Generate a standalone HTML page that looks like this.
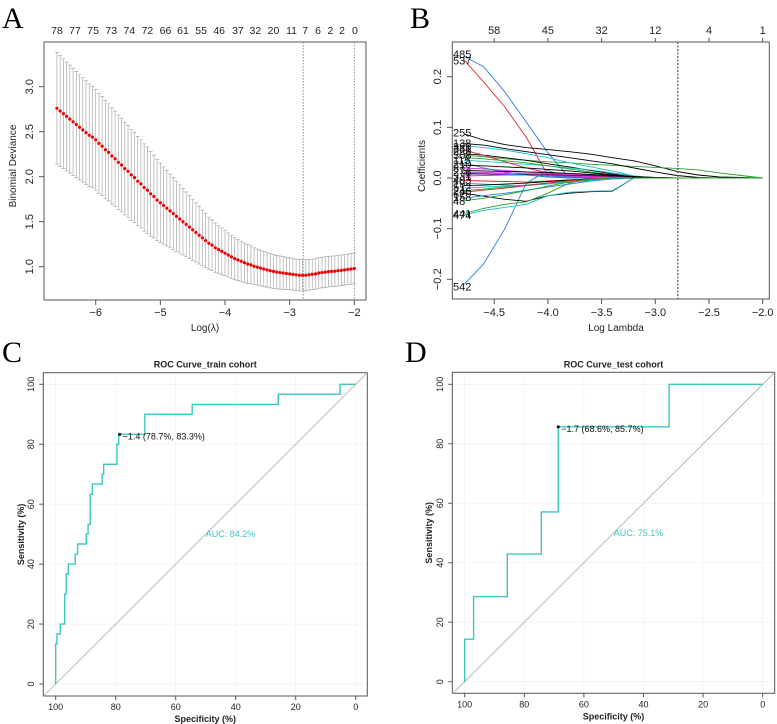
<!DOCTYPE html>
<html><head><meta charset="utf-8"><style>
body{margin:0;background:#fff}
svg{display:block;font-family:"Liberation Sans",sans-serif}
</style></head><body>
<svg id="fig" width="777" height="724" viewBox="0 0 777 724" xmlns="http://www.w3.org/2000/svg">
<g id="pA"></g>
<g id="pB"></g>
<g id="pC"></g>
<g id="pD"></g>
</svg>
<script>
// ---------- Panel A data ----------
const aLambdaStart = -6.6, aLambdaStep = 0.05;
const aMean = [2.76,2.73,2.70,2.67,2.64,2.61,2.58,2.55,2.52,2.49,2.46,2.44,2.41,
2.37,2.34,2.30,2.27,2.23,2.20,2.16,2.13,2.09,2.06,2.02,1.99,1.95,1.92,1.88,1.85,1.81,1.78,1.74,1.71,
1.68,1.65,1.62,1.59,1.56,1.53,1.50,1.47,1.44,1.41,1.38,1.35,1.32,1.29,1.26,1.24,1.21,1.19,1.17,1.15,
1.13,1.11,1.09,1.075,1.06,1.045,1.03,1.02,1.005,0.995,0.985,0.975,0.965,0.955,0.948,0.94,0.935,0.93,0.925,0.92,
0.915,0.91,0.905,0.905,0.905,0.91,0.915,0.92,0.93,0.935,0.94,0.945,0.948,0.95,0.955,0.96,0.965,0.97,0.975,0.98];
const aSE = [0.62,0.615,0.61,0.605,0.60,0.595,0.59,0.585,0.58,0.575,0.57,0.565,0.56,
0.555,0.55,0.545,0.54,0.535,0.53,0.525,0.52,0.515,0.51,0.505,0.50,0.495,0.49,0.485,0.48,0.47,0.46,0.45,0.44,
0.43,0.42,0.41,0.40,0.39,0.38,0.37,0.36,0.35,0.34,0.33,0.32,0.31,0.30,0.29,0.28,0.275,0.265,0.26,0.25,
0.245,0.24,0.235,0.23,0.225,0.22,0.215,0.21,0.205,0.20,0.198,0.195,0.192,0.19,0.188,0.186,0.184,0.182,0.18,0.178,
0.176,0.175,0.174,0.173,0.172,0.171,0.17,0.17,0.17,0.17,0.17,0.17,0.17,0.17,0.17,0.17,0.17,0.17,0.17,0.17];
const aXTicks = [-6,-5,-4,-3,-2];
const aYTicks = [1.0,1.5,2.0,2.5,3.0];
const aTopLabels = ["78","77","75","73","74","72","66","61","55","46","37","32","20","11","7","6","2","2","0"];
const aTopLambda = [-6.60,-6.32,-6.04,-5.76,-5.48,-5.20,-4.92,-4.65,-4.37,-4.09,-3.80,-3.53,-3.25,-2.97,-2.76,-2.56,-2.37,-2.19,-1.99];
const aVLines = [-2.79,-2.0];

// ---------- Panel B data ----------
const bGrid = [-4.78,-4.6,-4.4,-4.2,-4.0,-3.8,-3.6,-3.4,-3.2,-3.0,-2.8,-2.6,-2.4,-2.2,-2.0];
const bColors = ["#2a7fd4","#d62728","#2a7fd4","#000","#2ca02c","#000","#000","#2ca02c","#17becf","#17becf","#e020e0","#000","#17becf","#d62728","#2a7fd4","#2ca02c","#e020e0","#000","#17becf","#d62728","#000","#2ca02c","#2a7fd4","#e020e0","#000","#17becf","#d62728","#000","#2a7fd4","#2ca02c"];
const bCoefs = [
[0.240,0.220,0.170,0.110,0.050,0,0,0,0,0,0,0,0,0,0],
[0.233,0.190,0.140,0.080,0.005,0,0,0,0,0,0,0,0,0,0],
[-0.210,-0.170,-0.100,-0.010,0.015,0,0,0,0,0,0,0,0,0,0],
[0.087,0.075,0.066,0.060,0.056,0.052,0.047,0.040,0.034,0.024,0.013,0.006,0.002,0.001,0],
[0.045,0.042,0.038,0.035,0.032,0.030,0.027,0.025,0.023,0.021,0.019,0.016,0.010,0.005,0],
[0.068,0.065,0.058,0.052,0.046,0.040,0.034,0.028,0.020,0.012,0.005,0.001,0,0,0],
[-0.030,-0.036,-0.042,-0.046,-0.035,-0.030,-0.027,-0.026,0,0,0,0,0,0,0],
[-0.070,-0.060,-0.052,-0.047,-0.030,-0.010,0,0,0,0,0,0,0,0,0],
[-0.073,-0.064,-0.058,-0.052,-0.035,-0.028,-0.026,-0.025,0,0,0,0,0,0,0],
[0.064,0.060,0.055,0.048,0.040,0.030,0.022,0.014,0.004,0,0,0,0,0,0],
[0.020,0.018,0.015,0.012,0.010,0.008,0.006,0.004,0.002,0.001,0,0,0,0,0],
[0.048,0.045,0.040,0.035,0.028,0.022,0.015,0.008,0.002,0,0,0,0,0,0],
[0.035,0.033,0.030,0.027,0.024,0.020,0.016,0.010,0.004,0,0,0,0,0,0],
[0.055,0.045,0.032,0.020,0.010,0.004,0,0,0,0,0,0,0,0,0],
[0.030,0.020,0.012,0.006,0.002,0,0,0,0,0,0,0,0,0,0],
[0.040,0.038,0.034,0.030,0.024,0.018,0.012,0.006,0,0,0,0,0,0,0],
[0.012,0.011,0.010,0.009,0.008,0.006,0.005,0.003,0.001,0,0,0,0,0,0],
[0.008,0.008,0.007,0.007,0.006,0.005,0.004,0.003,0.002,0.001,0,0,0,0,0],
[-0.010,-0.012,-0.014,-0.015,-0.012,-0.008,-0.004,-0.002,0,0,0,0,0,0,0],
[-0.005,-0.006,-0.007,-0.008,-0.006,-0.004,-0.002,0,0,0,0,0,0,0,0],
[-0.015,-0.014,-0.012,-0.010,-0.007,-0.004,-0.002,0,0,0,0,0,0,0,0],
[-0.025,-0.022,-0.018,-0.014,-0.010,-0.006,-0.003,0,0,0,0,0,0,0,0],
[-0.040,-0.035,-0.030,-0.024,-0.018,-0.012,-0.006,-0.002,0,0,0,0,0,0,0],
[0.004,0.005,0.006,0.006,0.005,0.004,0.003,0.002,0.001,0,0,0,0,0,0],
[0.015,0.014,0.013,0.012,0.011,0.009,0.007,0.005,0.003,0.001,0,0,0,0,0],
[-0.020,-0.018,-0.016,-0.014,-0.011,-0.008,-0.005,-0.002,0,0,0,0,0,0,0],
[-0.028,-0.024,-0.020,-0.015,-0.010,-0.005,-0.002,0,0,0,0,0,0,0,0],
[0.025,0.024,0.022,0.020,0.017,0.014,0.010,0.006,0.002,0,0,0,0,0,0],
[0.010,0.009,0.008,0.006,0.004,0.002,0.001,0,0,0,0,0,0,0,0],
[-0.045,-0.040,-0.033,-0.025,-0.016,-0.008,-0.003,0,0,0,0,0,0,0,0]
];
const bLabels = ["485","537","542","255","138","48","441","474","326","229","308","115","210","87","276","331","403","19","512","246","67","158","381"];
const bLabelVals = [0.245,0.232,-0.214,0.090,0.069,-0.045,-0.070,-0.073,0.062,0.053,0.045,0.036,0.028,0.020,0.012,0.004,-0.004,-0.011,-0.018,-0.026,-0.032,-0.038,0.058];
const bXTicks = [-4.5,-4.0,-3.5,-3.0,-2.5,-2.0];
const bYTicks = [-0.2,-0.1,0.0,0.1,0.2];
const bTopLabels = ["58","45","32","12","4","1"];
const bTopLambda = [-4.5,-4.0,-3.5,-3.0,-2.5,-2.0];
const bVLine = -2.79;

// ---------- Panel C / D data ----------
const cSpec = [100,100,99.6,99.6,98.5,98.5,97,97,96.5,96.5,95.8,95.8,93.5,93.5,92.7,92.7,89.8,89.8,89.2,89.2,88.5,88.5,87.8,87.8,84.5,84.5,84,84,79.6,79.6,79,79,70.3,70.3,54.5,54.5,25.8,25.8,5.2,5.2,0];
const cSens = [0,13.3,13.3,16.7,16.7,20,20,30,30,36.7,36.7,40,40,43.3,43.3,46.7,46.7,50,50,53.3,53.3,63.3,63.3,66.7,66.7,70,70,73.3,73.3,80,80,83.3,83.3,90,90,93.3,93.3,96.7,96.7,100,100];
const cBest = [78.7,83.3];
const dSpec = [100,100,97,97,85.7,85.7,74.3,74.3,68.6,68.6,31.4,31.4,0];
const dSens = [0,14.3,14.3,28.6,28.6,42.9,42.9,57.1,57.1,85.7,85.7,100,100];
const dBest = [68.6,85.7];
const rocTicks = [0,20,40,60,80,100];

const NS="http://www.w3.org/2000/svg";
function mk(parent,tag,attrs,text){const e=document.createElementNS(NS,tag);for(const k in attrs)e.setAttribute(k,attrs[k]);if(text!==undefined)e.textContent=text;parent.appendChild(e);return e;}

// ===== Panel A =====
(function(){
const g=document.getElementById('pA');
const X=v=>354.3+(v+2)*64.65, Y=v=>266.7-(v-1)*90;
let t=mk(g,'text',{x:2,y:28,'font-family':'Liberation Serif, serif','font-size':30},'A');

let r=mk(g,'rect',{x:44,y:42,width:322,height:258,fill:'none',stroke:'#555','stroke-width':1});

aVLines.forEach(v=>{const l=mk(g,'line',{x1:X(v),x2:X(v),y1:42,y2:300,stroke:'#777','stroke-dasharray':'1.5,1.5','stroke-width':0.8});
});
aMean.forEach((m,i)=>{const lx=aLambdaStart+i*aLambdaStep,x=X(lx),s=aSE[i];
const e=mk(g,'path',{d:`M${x},${Y(m+s)}V${Y(m-s)}M${x-2},${Y(m+s)}H${x+2}M${x-2},${Y(m-s)}H${x+2}`,stroke:'#aaa','stroke-width':0.7,fill:'none'});
});
aMean.forEach((m,i)=>{const lx=aLambdaStart+i*aLambdaStep;
const c=mk(g,'circle',{cx:X(lx),cy:Y(m),r:1.6,fill:'#ee0000'});
});
aXTicks.forEach(v=>{const x=X(v);mk(g,'line',{x1:x,x2:x,y1:300,y2:305,stroke:'#555'});
const tt=mk(g,'text',{x:x,y:316,'text-anchor':'middle','font-size':11,fill:'#222'},String(v).replace('-','−'));
});
aYTicks.forEach(v=>{const y=Y(v);mk(g,'line',{x1:39,x2:44,y1:y,y2:y,stroke:'#555'});
const tt=mk(g,'text',{x:33,y:y,'text-anchor':'middle','font-size':11,fill:'#222',transform:`rotate(-90 33 ${y})`},v.toFixed(1));
});
aTopLabels.forEach((s,i)=>{const tt=mk(g,'text',{x:X(aTopLambda[i]),y:34,'text-anchor':'middle','font-size':10.5,fill:'#222'},s);
});
t=mk(g,'text',{x:205,y:331,'text-anchor':'middle','font-size':10,fill:'#222'},'Log(λ)');

t=mk(g,'text',{x:16,y:166,'text-anchor':'middle','font-size':10,fill:'#222',transform:'rotate(-90 16 166)'},'Binomial Deviance');

})();

// ===== Panel B =====
(function(){
const g=document.getElementById('pB');
const X=v=>762.7+(v+2)*107.4, Y=v=>178-v*506.5;
let t=mk(g,'text',{x:410,y:28,'font-family':'Liberation Serif, serif','font-size':30},'B');

let r=mk(g,'rect',{x:452.3,y:42,width:317,height:257,fill:'none',stroke:'#555','stroke-width':1});

bCoefs.forEach((row,i)=>{const d=row.map((v,j)=>(j?'L':'M')+X(bGrid[j]).toFixed(1)+','+Y(v).toFixed(1)).join('');
const p=mk(g,'path',{d:d,fill:'none',stroke:bColors[i%bColors.length],'stroke-width':0.9});
});
const vl=mk(g,'line',{x1:X(bVLine),x2:X(bVLine),y1:42,y2:299,stroke:'#555','stroke-dasharray':'2,1.5','stroke-width':1.2});

bLabels.forEach((s,i)=>{const tt=mk(g,'text',{x:453,y:Y(bLabelVals[i])+4,'font-size':11,fill:'#111'},s);
});
bXTicks.forEach(v=>{const x=X(v);mk(g,'line',{x1:x,x2:x,y1:299,y2:304,stroke:'#555'});
const tt=mk(g,'text',{x:x,y:316,'text-anchor':'middle','font-size':11,fill:'#222'},v.toFixed(1).replace('-','−'));
});
bYTicks.forEach(v=>{const y=Y(v);mk(g,'line',{x1:447,x2:452.3,y1:y,y2:y,stroke:'#555'});
const tt=mk(g,'text',{x:441,y:y,'text-anchor':'middle','font-size':11,fill:'#222',transform:`rotate(-90 441 ${y})`},v.toFixed(1).replace('-','−'));
});
bTopLambda.forEach((v,i)=>{const x=X(v);mk(g,'line',{x1:x,x2:x,y1:42,y2:38,stroke:'#555'});
const tt=mk(g,'text',{x:x,y:34,'text-anchor':'middle','font-size':11,fill:'#222'},bTopLabels[i]);
});
t=mk(g,'text',{x:616,y:331,'text-anchor':'middle','font-size':10,fill:'#222'},'Log Lambda');

t=mk(g,'text',{x:425,y:166,'text-anchor':'middle','font-size':10,fill:'#222',transform:'rotate(-90 425 166)'},'Coefficients');

})();

// ===== ROC panels =====
function roc(id,o){
const g=document.getElementById(id);
const X=v=>o.x0+(100-v)*o.sx, Y=v=>o.y0-v*o.sy;
let t=mk(g,'text',{x:o.lx,y:o.ly,'font-family':'Liberation Serif, serif','font-size':30},o.letter);

rocTicks.forEach(v=>{
mk(g,'line',{x1:X(v),x2:X(v),y1:o.fy,y2:o.fy+o.fh,stroke:'#eee','stroke-width':0.6});
mk(g,'line',{x1:o.fx,x2:o.fx+o.fw,y1:Y(v),y2:Y(v),stroke:'#eee','stroke-width':0.6});});
let r=mk(g,'rect',{x:o.fx,y:o.fy,width:o.fw,height:o.fh,fill:'none',stroke:'#555','stroke-width':1});

// diagonal clipped to frame
const d1=(o.x0-o.fx)/o.sx; // spec beyond 100
const diag=mk(g,'line',{x1:o.fx,y1:Y(-d1),x2:o.fx+o.fw,y2:Y(100-(o.x0+100*o.sx-(o.fx+o.fw))/o.sx),stroke:'#aaa','stroke-width':0.8});

const d=o.spec.map((v,i)=>(i?'L':'M')+X(v).toFixed(1)+','+Y(o.sens[i]).toFixed(1)).join('');
const p=mk(g,'path',{d:d,fill:'none',stroke:'#3cc8c0','stroke-width':1.4});

const c=mk(g,'circle',{cx:X(o.best[0]),cy:Y(o.best[1]),r:1.5,fill:'#000'});

t=mk(g,'text',{x:X(o.best[0])+3,y:Y(o.best[1])+5,'font-size':9,fill:'#111'},o.bestText);

t=mk(g,'text',{x:X(50),y:Y(50)+3,'font-size':9,fill:'#3cc8c0'},o.auc);

rocTicks.forEach(v=>{
mk(g,'line',{x1:X(v),x2:X(v),y1:o.fy+o.fh,y2:o.fy+o.fh+4,stroke:'#555'});
let tt=mk(g,'text',{x:X(v),y:o.fy+o.fh+14,'text-anchor':'middle','font-size':9,fill:'#222'},String(v));

mk(g,'line',{x1:o.fx-4,x2:o.fx,y1:Y(v),y2:Y(v),stroke:'#555'});
tt=mk(g,'text',{x:o.tx,y:Y(v),'text-anchor':'middle','font-size':9,fill:'#222',transform:`rotate(-90 ${o.tx} ${Y(v)})`},String(v));
});
t=mk(g,'text',{x:o.fx+o.fw/2,y:o.fy-5,'text-anchor':'middle','font-size':9,'font-weight':'bold',fill:'#222'},o.title);

t=mk(g,'text',{x:o.fx+o.fw/2,y:o.fy+o.fh+26,'text-anchor':'middle','font-size':9,'font-weight':'bold',fill:'#222'},'Specificity (%)');

const cy=o.fy+o.fh/2;
t=mk(g,'text',{x:o.ax,y:cy,'text-anchor':'middle','font-size':9,'font-weight':'bold',fill:'#222',transform:`rotate(-90 ${o.ax} ${cy})`},'Sensitivity (%)');

}
roc('pC',{letter:'C',lx:2,ly:362,x0:55.7,sx:3.0,y0:684,sy:2.997,fx:43.3,fy:372.7,fw:324,fh:323.3,tx:34,ax:24,
spec:cSpec,sens:cSens,best:cBest,bestText:'−1.4 (78.7%, 83.3%)',auc:'AUC: 84.2%',title:'ROC Curve_train cohort'});
roc('pD',{letter:'D',lx:405,ly:362,x0:464.7,sx:2.98,y0:681.7,sy:2.974,fx:452.3,fy:372.3,fw:322.4,fh:321,tx:443,ax:432,
spec:dSpec,sens:dSens,best:dBest,bestText:'−1.7 (68.6%, 85.7%)',auc:'AUC: 75.1%',title:'ROC Curve_test cohort'});
</script>
</body></html>
